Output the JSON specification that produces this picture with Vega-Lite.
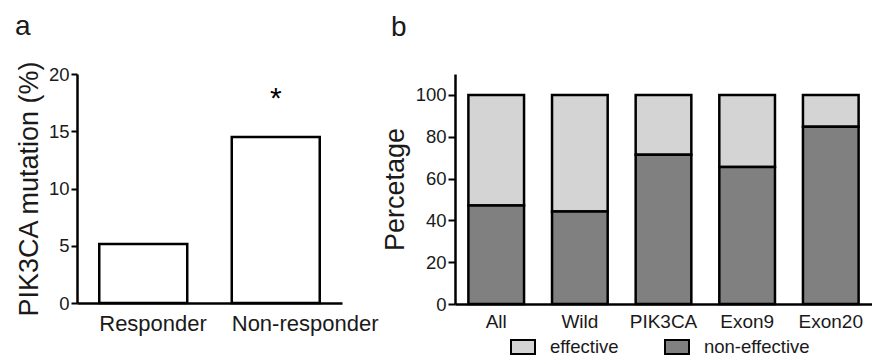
{
  "$schema": "https://vega.github.io/schema/vega-lite/v6.json",
  "padding": {"left": 15, "top": 13, "right": 0, "bottom": 0},
  "bounds": "flush",
  "spacing": 113,
  "resolve": {"legend": {"color": "independent"}, "scale": {"color": "independent"}},
  "config": {
    "view": {"stroke": null},
    "font": "Liberation Sans",
    "axis": {
      "domainColor": "black",
      "domainWidth": 2.5,
      "tickColor": "black",
      "tickWidth": 2,
      "labelColor": "#1a1a1a",
      "titleColor": "#1a1a1a",
      "titleFontWeight": "normal",
      "grid": false,
      "labelFont": "Liberation Sans",
      "titleFont": "Liberation Sans"
    },
    "legend": {"labelFontSize": 18.5, "labelFont": "Liberation Sans", "labelColor": "#1a1a1a"},
    "title": {"font": "Liberation Sans", "fontWeight": "normal", "color": "#1a1a1a"}
  },
  "hconcat": [
    {
      "title": {"text": "a", "anchor": "start", "frame": "group", "dx": -62, "fontSize": 28, "baseline": "alphabetic", "offset": -3},
      "width": 265,
      "height": 229,
      "data": {"values": [
        {"group": "Responder", "pct": 5.15, "sig": ""},
        {"group": "Non-responder", "pct": 14.5, "sig": "*"}
      ]},
      "layer": [
        {
          "mark": {"type": "bar", "fill": "white", "stroke": "black", "strokeWidth": 2.5},
          "encoding": {
            "x": {"field": "group", "type": "nominal", "sort": ["Responder", "Non-responder"],
              "scale": {"paddingInner": 0.336, "paddingOuter": 0.168},
              "axis": {"title": null, "ticks": false, "labelAngle": 0, "labelFontSize": 22, "labelAlign": "left", "labelOffset": -44, "labelPadding": 10}},
            "y": {"field": "pct", "type": "quantitative", "scale": {"domain": [0, 20]},
              "axis": {"values": [0, 5, 10, 15, 20], "title": "PIK3CA mutation (%)", "titleFontSize": 27, "labelFontSize": 18.5, "tickSize": 6, "labelPadding": 2, "titlePadding": 5}}
          }
        },
        {
          "mark": {"type": "text", "fontSize": 30, "dy": -29, "baseline": "alphabetic", "color": "black"},
          "encoding": {
            "x": {"field": "group", "type": "nominal", "sort": ["Responder", "Non-responder"]},
            "y": {"field": "pct", "type": "quantitative"},
            "text": {"field": "sig"}
          }
        }
      ]
    },
    {
      "title": {"text": "b", "anchor": "start", "frame": "group", "dx": -64, "fontSize": 28, "baseline": "alphabetic", "offset": 10},
      "width": 417,
      "height": 230,
      "data": {"values": [
        {"cat": "All", "series": "effective", "pct": 52.9},
        {"cat": "All", "series": "non-effective", "pct": 47.1},
        {"cat": "Wild", "series": "effective", "pct": 55.8},
        {"cat": "Wild", "series": "non-effective", "pct": 44.2},
        {"cat": "PIK3CA", "series": "effective", "pct": 28.6},
        {"cat": "PIK3CA", "series": "non-effective", "pct": 71.4},
        {"cat": "Exon9", "series": "effective", "pct": 34.5},
        {"cat": "Exon9", "series": "non-effective", "pct": 65.5},
        {"cat": "Exon20", "series": "effective", "pct": 15.2},
        {"cat": "Exon20", "series": "non-effective", "pct": 84.8}
      ]},
      "mark": {"type": "bar", "stroke": "black", "strokeWidth": 2.5},
      "encoding": {
        "x": {"field": "cat", "type": "nominal", "sort": ["All", "Wild", "PIK3CA", "Exon9", "Exon20"],
          "scale": {"paddingInner": 0.3345, "paddingOuter": 0.16},
          "axis": {"title": null, "ticks": false, "labelAngle": 0, "labelFontSize": 19, "labelPadding": 8}},
        "y": {"field": "pct", "type": "quantitative", "stack": "zero", "scale": {"domain": [0, 110]},
          "axis": {"values": [0, 20, 40, 60, 80, 100], "title": "Percetage", "titleFontSize": 27, "labelFontSize": 18.5, "tickSize": 7, "labelPadding": 2, "titlePadding": 6}},
        "color": {"field": "series", "type": "nominal",
          "scale": {"domain": ["effective", "non-effective"], "range": ["#d4d4d4", "#808080"]},
          "legend": {"orient": "none", "legendX": 55, "legendY": 260, "direction": "horizontal", "title": null, "symbolType": "M-1,-0.58H1V0.58H-1Z", "symbolSize": 576, "symbolStrokeColor": "black", "symbolStrokeWidth": 2, "symbolOpacity": 1, "labelFontSize": 18.5, "labelColor": "#1a1a1a", "labelOffset": 14, "columnPadding": 42}},
        "order": {"field": "series", "sort": "descending"}
      }
    }
  ]
}
